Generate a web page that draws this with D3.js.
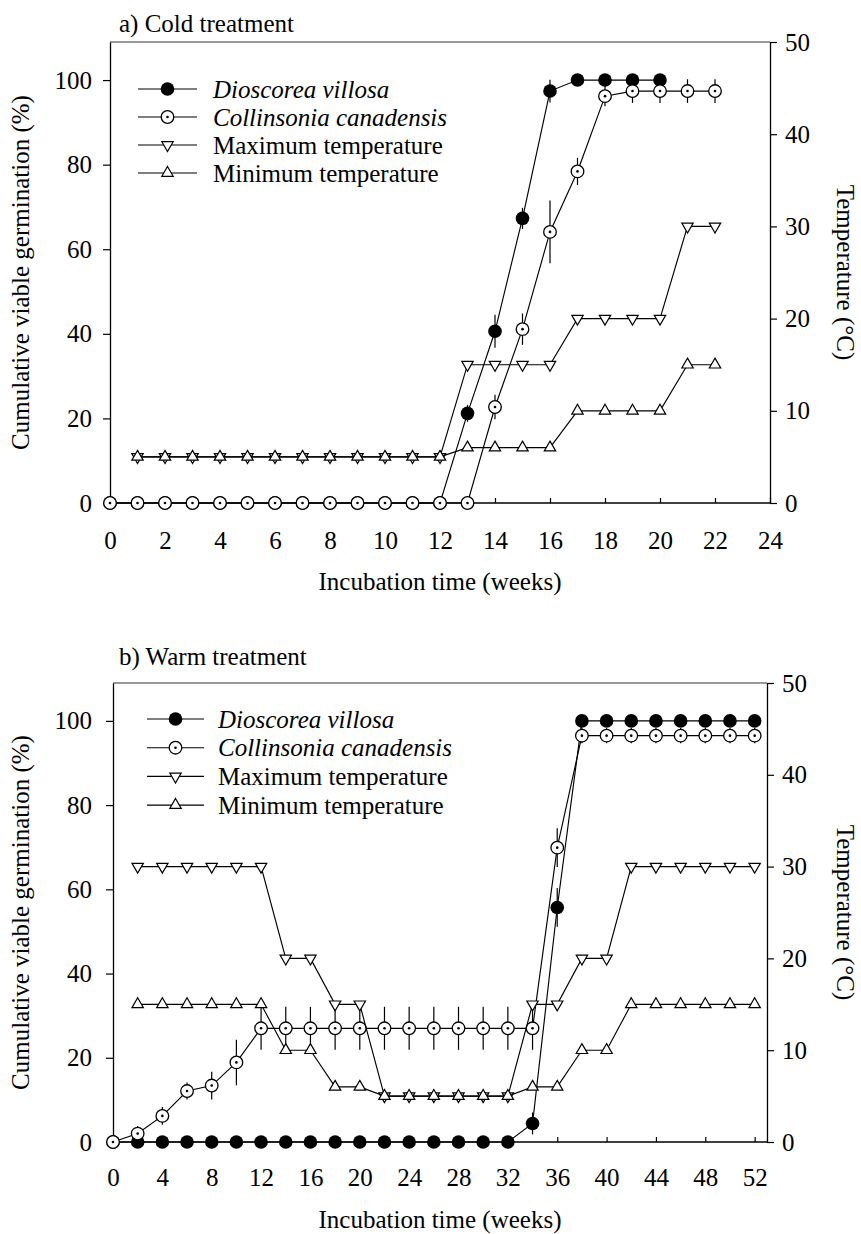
<!DOCTYPE html>
<html>
<head>
<meta charset="utf-8">
<script src="https://cdn.jsdelivr.net/npm/d3@7"></script>
<style>
  html, body { margin: 0; padding: 0; background: #fff; }
  svg { display: block; }
  text { font-family: "Liberation Serif", "Times New Roman", serif; fill: #000; }
</style>
</head>
<body>
<svg id="chart" width="861" height="1234"></svg>
<script>
// ---- a) Cold treatment ----
const coldGermWeeks = [0,1,2,3,4,5,6,7,8,9,10,11,12,13,14,15,16,17,18,19,20,21,22];
const coldDioscorea = [0,0,0,0,0,0,0,0,0,0,0,0,0,21.2,40.6,67.3,97.4,100,100,100,100];
const coldDioscoreaErr = [0,0,0,0,0,0,0,0,0,0,0,0,0,2.0,3.9,2.5,2.7,0,0,0,0];
const coldCollinsonia = [0,0,0,0,0,0,0,0,0,0,0,0,0,0,22.7,41.1,64.1,78.4,96.2,97.4,97.4,97.4,97.4];
const coldCollinsoniaErr = [0,0,0,0,0,0,0,0,0,0,0,0,0,0,2.9,3.7,7.4,3.2,2.4,2.8,2.8,2.8,2.8];
const coldTempWeeks = [1,2,3,4,5,6,7,8,9,10,11,12,13,14,15,16,17,18,19,20,21,22];
const coldMaxTemp = [5,5,5,5,5,5,5,5,5,5,5,5,15,15,15,15,20,20,20,20,30,30];
const coldMinTemp = [5,5,5,5,5,5,5,5,5,5,5,5,6,6,6,6,10,10,10,10,15,15];
const coldXTicks = [0,2,4,6,8,10,12,14,16,18,20,22,24];

// ---- b) Warm treatment ----
const warmGermWeeks = [0,2,4,6,8,10,12,14,16,18,20,22,24,26,28,30,32,34,36,38,40,42,44,46,48,50,52];
const warmDioscorea = [0,0,0,0,0,0,0,0,0,0,0,0,0,0,0,0,0,4.4,55.7,100,100,100,100,100,100,100,100];
const warmDioscoreaErr = [0,0,0,0,0,0,0,0,0,0,0,0,0,0,0,0,0,2.6,4.6,0,0,0,0,0,0,0,0];
const warmCollinsonia = [0,2.0,6.2,12.1,13.4,18.9,27.0,27.0,27.0,27.0,27.0,27.0,27.0,27.0,27.0,27.0,27.0,27.0,69.9,96.5,96.5,96.5,96.5,96.5,96.5,96.5,96.5];
const warmCollinsoniaErr = [0,1.8,2.1,2.0,3.3,5.4,5.1,5.1,5.1,5.1,5.1,5.1,5.1,5.1,5.1,5.1,5.1,5.1,4.6,1.8,1.8,1.8,1.8,1.8,1.8,1.8,1.8];
const warmTempWeeks = [2,4,6,8,10,12,14,16,18,20,22,24,26,28,30,32,34,36,38,40,42,44,46,48,50,52];
const warmMaxTemp = [30,30,30,30,30,30,20,20,15,15,5,5,5,5,5,5,15,15,20,20,30,30,30,30,30,30];
const warmMinTemp = [15,15,15,15,15,15,10,10,6,6,5,5,5,5,5,5,6,6,10,10,15,15,15,15,15,15];
const warmXTicks = [0,4,8,12,16,20,24,28,32,36,40,44,48,52];

// ---- shared axis ticks and labels ----
const germTicks = [0,20,40,60,80,100];
const tempTicks = [0,10,20,30,40,50];
const legendLabels = ["Dioscorea villosa", "Collinsonia canadensis", "Maximum temperature", "Minimum temperature"];
const xTitle = "Incubation time (weeks)";
const yLeftTitle = "Cumulative viable germination (%)";
const yRightTitle = "Temperature (\u00B0C)";

const svg = d3.select("#chart");
const FONT = 25;
const triSize = 56;
const symTri = d3.symbol().type(d3.symbolTriangle).size(triSize);

function drawPanel(cfg) {
  const g = svg.append("g");
  const x = d3.scaleLinear().domain([0, cfg.xMax]).range([cfg.left, cfg.right]);
  const yG = d3.scaleLinear().domain([0, 109]).range([cfg.bottom, cfg.top]);
  const yT = d3.scaleLinear().domain([0, 50]).range([cfg.bottom, cfg.top]);

  // frame top line
  g.append("line")
    .attr("x1", cfg.left).attr("x2", cfg.right)
    .attr("y1", cfg.top).attr("y2", cfg.top)
    .attr("stroke", "#333").attr("stroke-width", 1.2);

  // axes
  const axL = g.append("g").attr("transform", `translate(${cfg.left},0)`)
    .call(d3.axisLeft(yG).tickValues(germTicks).tickSizeInner(7).tickSizeOuter(0).tickPadding(cfg.left - 7 - 92));
  const axR = g.append("g").attr("transform", `translate(${cfg.right},0)`)
    .call(d3.axisRight(yT).tickValues(tempTicks).tickSizeInner(7).tickSizeOuter(0).tickPadding(8));
  const axB = g.append("g").attr("transform", `translate(0,${cfg.bottom})`)
    .call(d3.axisBottom(x).tickValues(cfg.xTicks).tickSizeInner(-5).tickSizeOuter(0).tickPadding(cfg.xPad));
  [axL, axR, axB].forEach(a => {
    a.attr("font-size", null).attr("font-family", null);
    a.selectAll("text").style("font-size", FONT + "px").attr("fill", "#000");
    a.selectAll("line").attr("stroke", "#000").attr("stroke-width", 1.2);
    a.select(".domain").attr("stroke", "#000").attr("stroke-width", 1.3);
  });
  // keep the bottom axis line spanning the full frame
  axB.select(".domain").attr("d", `M${cfg.left},0H${cfg.right}`);

  // titles
  g.append("text").attr("x", 119).attr("y", cfg.titleY)
    .style("font-size", FONT + "px").text(cfg.title);
  g.append("text").attr("x", (cfg.left + cfg.right) / 2).attr("y", cfg.xTitleY)
    .attr("text-anchor", "middle").style("font-size", FONT + "px").text(xTitle);
  const midY = (cfg.top + cfg.bottom) / 2;
  g.append("text")
    .attr("transform", `translate(29,${midY}) rotate(-90)`)
    .attr("text-anchor", "middle").style("font-size", FONT + "px").text(yLeftTitle);
  g.append("text")
    .attr("transform", `translate(837,${midY}) rotate(90)`)
    .attr("text-anchor", "middle").style("font-size", FONT + "px").text(yRightTitle);

  const line = (xs, ys, sy) => d3.line().x((d, i) => x(xs[i])).y((d, i) => sy(ys[i]))(ys);
  const lineAttrs = p => p.attr("fill", "none").attr("stroke", "#000").attr("stroke-width", 1.15);

  // error bars
  function errBars(xs, ys, es) {
    g.append("g").selectAll("line").data(ys.map((v, i) => ({ x: xs[i], y: v, e: es[i] })).filter(d => d.e > 0))
      .join("line")
      .attr("x1", d => x(d.x)).attr("x2", d => x(d.x))
      .attr("y1", d => yG(d.y - d.e)).attr("y2", d => yG(d.y + d.e))
      .attr("stroke", "#000").attr("stroke-width", 1.2);
  }

  // Dioscorea villosa (filled circles)
  errBars(cfg.germWeeks, cfg.dio, cfg.dioErr);
  lineAttrs(g.append("path").attr("d", line(cfg.germWeeks, cfg.dio, yG)));
  g.append("g").selectAll("circle").data(cfg.dio).join("circle")
    .attr("cx", (d, i) => x(cfg.germWeeks[i])).attr("cy", d => yG(d))
    .attr("r", 6.8).attr("fill", "#000");

  // Collinsonia canadensis (open circles with centre dot)
  errBars(cfg.germWeeks, cfg.col, cfg.colErr);
  lineAttrs(g.append("path").attr("d", line(cfg.germWeeks, cfg.col, yG)));
  const cg = g.append("g").selectAll("g").data(cfg.col).join("g")
    .attr("transform", (d, i) => `translate(${x(cfg.germWeeks[i])},${yG(d)})`);
  cg.append("circle").attr("r", 6.3).attr("fill", "#fff").attr("stroke", "#000").attr("stroke-width", 1.3);
  cg.append("circle").attr("r", 1.3).attr("fill", "#000");

  // temperatures: maximum (downward triangles), minimum (upward triangles)
  lineAttrs(g.append("path").attr("d", line(cfg.tempWeeks, cfg.tMax, yT)));
  g.append("g").selectAll("path").data(cfg.tMax).join("path")
    .attr("d", symTri)
    .attr("transform", (d, i) => `translate(${x(cfg.tempWeeks[i])},${yT(d)}) rotate(180)`)
    .attr("fill", "#fff").attr("stroke", "#000").attr("stroke-width", 1.2);
  lineAttrs(g.append("path").attr("d", line(cfg.tempWeeks, cfg.tMin, yT)));
  g.append("g").selectAll("path").data(cfg.tMin).join("path")
    .attr("d", symTri)
    .attr("transform", (d, i) => `translate(${x(cfg.tempWeeks[i])},${yT(d)})`)
    .attr("fill", "#fff").attr("stroke", "#000").attr("stroke-width", 1.2);

  // legend
  const lg = g.append("g");
  legendLabels.forEach((lab, i) => {
    const ly = cfg.legY + i * cfg.legStep;
    lg.append("line").attr("x1", cfg.legX0).attr("x2", cfg.legX1).attr("y1", ly).attr("y2", ly)
      .attr("stroke", "#000").attr("stroke-width", 1.15);
    const mx = (cfg.legX0 + cfg.legX1) / 2;
    if (i === 0) {
      lg.append("circle").attr("cx", mx).attr("cy", ly).attr("r", 6.8).attr("fill", "#000");
    } else if (i === 1) {
      lg.append("circle").attr("cx", mx).attr("cy", ly).attr("r", 6.3).attr("fill", "#fff").attr("stroke", "#000").attr("stroke-width", 1.3);
      lg.append("circle").attr("cx", mx).attr("cy", ly).attr("r", 1.3).attr("fill", "#000");
    } else {
      lg.append("path").attr("d", symTri)
        .attr("transform", `translate(${mx},${ly})` + (i === 2 ? " rotate(180)" : ""))
        .attr("fill", "#fff").attr("stroke", "#000").attr("stroke-width", 1.2);
    }
    lg.append("text").attr("x", cfg.legTextX).attr("y", ly + 8.5)
      .style("font-size", FONT + "px").style("font-style", i < 2 ? "italic" : "normal")
      .text(lab);
  });
}

drawPanel({
  title: "a) Cold treatment", titleY: 32,
  left: 110, right: 770, top: 42, bottom: 503, xMax: 24, xTicks: coldXTicks, xPad: 28,
  xTitleY: 590,
  germWeeks: coldGermWeeks, dio: coldDioscorea, dioErr: coldDioscoreaErr,
  col: coldCollinsonia, colErr: coldCollinsoniaErr,
  tempWeeks: coldTempWeeks, tMax: coldMaxTemp, tMin: coldMinTemp,
  legX0: 138, legX1: 197, legTextX: 213, legY: 89, legStep: 28
});

drawPanel({
  title: "b) Warm treatment", titleY: 665,
  left: 113, right: 767, top: 683, bottom: 1142, xMax: 53, xTicks: warmXTicks, xPad: 26,
  xTitleY: 1228,
  germWeeks: warmGermWeeks, dio: warmDioscorea, dioErr: warmDioscoreaErr,
  col: warmCollinsonia, colErr: warmCollinsoniaErr,
  tempWeeks: warmTempWeeks, tMax: warmMaxTemp, tMin: warmMinTemp,
  legX0: 147, legX1: 204, legTextX: 218, legY: 719, legStep: 28.7
});
</script>
</body>
</html>
